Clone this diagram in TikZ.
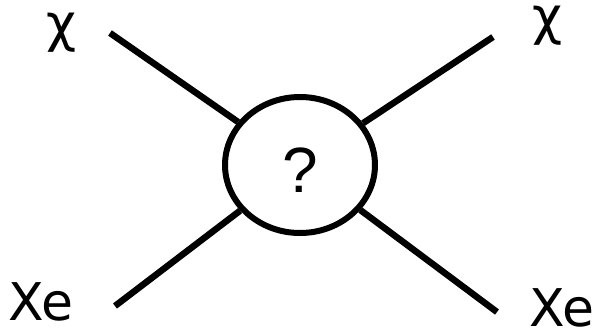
\documentclass[tikz,border=0pt]{standalone}
\usepackage{fontspec}
\setmainfont{DejaVu Sans}
\newfontfamily\qfont{Liberation Sans}
\usetikzlibrary{shapes.geometric}
\begin{document}
\begin{tikzpicture}[x=1pt,y=-1pt,
  leg/.style={line width=6.5pt},
  lbl/.style={font=\fontsize{52}{52}\selectfont, inner sep=0pt}]
\useasboundingbox (0,0) rectangle (600,330);
\node[draw, ellipse, line width=6pt, minimum width=150pt, minimum height=136pt, inner sep=0pt] (blob) at (300,165) {};
\node[inner sep=0pt, font=\qfont\fontsize{64}{64}\selectfont] (q) at (300,170) {?};
\coordinate (a) at (110,33);
\coordinate (b) at (493,37);
\coordinate (c) at (115,306);
\coordinate (d) at (497,312);
\draw[leg] (a) -- (blob);
\draw[leg] (b) -- (blob);
\draw[leg] (c) -- (blob);
\draw[leg] (d) -- (blob);
\node[lbl] (chi1) at (62,33) {χ};
\node[lbl] (chi2) at (548,26) {χ};
\node[lbl] (xe1) at (41,302) {Xe};
\node[lbl] (xe2) at (562,308) {Xe};
\end{tikzpicture}
\end{document}
